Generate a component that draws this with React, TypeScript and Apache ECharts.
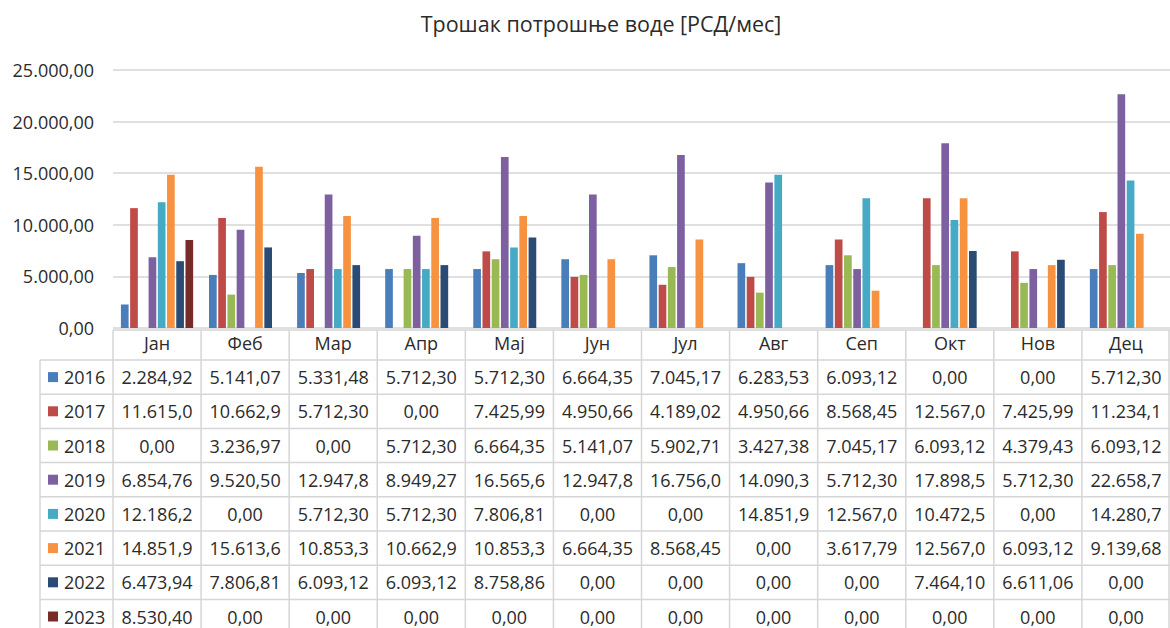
import React, { useEffect, useRef } from "react";
import * as echarts from "echarts";

const months = ["Јан", "Феб", "Мар", "Апр", "Мај", "Јун", "Јул", "Авг", "Сеп", "Окт", "Нов", "Дец"];
const years = ["2016", "2017", "2018", "2019", "2020", "2021", "2022", "2023"];
const yearColors = ["#4A7EBB", "#BE4B48", "#98B954", "#7D60A0", "#46AAC5", "#F69240", "#2A4B73", "#772C2A"];

const v2016 = [2284.92, 5141.07, 5331.48, 5712.3, 5712.3, 6664.35, 7045.17, 6283.53, 6093.12, 0, 0, 5712.3];
const v2017 = [11615.01, 10662.96, 5712.3, 0, 7425.99, 4950.66, 4189.02, 4950.66, 8568.45, 12567.06, 7425.99, 11234.19];
const v2018 = [0, 3236.97, 0, 5712.3, 6664.35, 5141.07, 5902.71, 3427.38, 7045.17, 6093.12, 4379.43, 6093.12];
const v2019 = [6854.76, 9520.5, 12947.88, 8949.27, 16565.67, 12947.88, 16756.08, 14090.34, 5712.3, 17898.54, 5712.3, 22658.79];
const v2020 = [12186.24, 0, 5712.3, 5712.3, 7806.81, 0, 0, 14851.98, 12567.06, 10472.55, 0, 14280.75];
const v2021 = [14851.98, 15613.62, 10853.37, 10662.96, 10853.37, 6664.35, 8568.45, 0, 3617.79, 12567.06, 6093.12, 9139.68];
const v2022 = [6473.94, 7806.81, 6093.12, 6093.12, 8758.86, 0, 0, 0, 0, 7464.1, 6611.06, 0];
const v2023 = [8530.4, 0, 0, 0, 0, 0, 0, 0, 0, 0, 0, 0];
const seriesValues = [v2016, v2017, v2018, v2019, v2020, v2021, v2022, v2023];

const yMax = 25000;
const yStep = 5000;

const FONT = "'Open Sans', 'Noto Sans', sans-serif";
const TEXT = "#2b2b2b";
const LINE = "#d6d6d6";

function fmt(v: number, decimals = 2): string {
  const neg = v < 0;
  const s = Math.abs(v).toFixed(decimals);
  const [ip, dp] = s.split(".");
  const withSep = ip.replace(/\B(?=(\d{3})+(?!\d))/g, ".");
  return (neg ? "-" : "") + withSep + (dp ? "," + dp : "");
}
// Excel data table cells are narrow: text is clipped to 8 characters
function cellText(v: number): string {
  return fmt(v).slice(0, 8);
}

const W = 1170;
const H = 628;
const gridLeft = 113;
const gridTop = 70;
const gridBottomY = 328;
const tableTop = 330;
const headerBottom = 360;
const rowH = 34.2;
const legendLeft = 40;

export default function App() {
  const ref = useRef<HTMLDivElement>(null);
  useEffect(() => {
    if (!ref.current) return;
    const chart = echarts.init(ref.current, undefined, { renderer: "svg" });
    const colW = (W - gridLeft) / months.length;
    const graphics: any[] = [];
    graphics.push({ type: "line", shape: { x1: gridLeft, y1: tableTop, x2: W, y2: tableTop }, style: { stroke: LINE, lineWidth: 1.5 } });
    for (let i = 0; i <= years.length; i++) {
      const y = headerBottom + i * rowH;
      graphics.push({ type: "line", shape: { x1: legendLeft, y1: y, x2: W, y2: y }, style: { stroke: LINE, lineWidth: 1.5 } });
    }
    graphics.push({ type: "line", shape: { x1: legendLeft, y1: headerBottom, x2: legendLeft, y2: H }, style: { stroke: LINE, lineWidth: 1.5 } });
    for (let j = 0; j <= months.length; j++) {
      const x = Math.min(gridLeft + j * colW, W - 1);
      graphics.push({ type: "line", shape: { x1: x, y1: tableTop, x2: x, y2: H }, style: { stroke: LINE, lineWidth: 1.5 } });
    }
    years.forEach((yr, i) => {
      const cy = headerBottom + (i + 0.5) * rowH;
      graphics.push({ type: "rect", shape: { x: 48, y: cy - 5, width: 10, height: 10 }, style: { fill: yearColors[i] } });
      graphics.push({
        type: "text", x: 64, y: cy,
        style: { text: yr, fill: TEXT, font: `18px ${FONT}`, textAlign: "left", textVerticalAlign: "middle" },
      });
      seriesValues[i].forEach((v, j) => {
        graphics.push({
          type: "text", x: gridLeft + (j + 0.5) * colW, y: cy,
          style: { text: cellText(v), fill: TEXT, font: `18px ${FONT}`, textAlign: "center", textVerticalAlign: "middle" },
        });
      });
    });

    chart.setOption({
      animation: false,
      title: {
        text: "Трошак потрошње воде [РСД/мес]",
        left: 596, top: 7, textAlign: "center",
        textStyle: { fontFamily: FONT, fontSize: 21.5, fontWeight: "normal", color: TEXT },
      },
      grid: { left: gridLeft, right: 0, top: gridTop, bottom: H - gridBottomY, containLabel: false },
      xAxis: {
        type: "category", data: months,
        axisLine: { show: false }, axisTick: { show: false },
        axisLabel: { margin: 6, fontFamily: FONT, fontSize: 18, color: TEXT },
      },
      yAxis: {
        type: "value", min: 0, max: yMax, interval: yStep,
        axisLine: { show: false }, axisTick: { show: false },
        splitLine: { lineStyle: { color: LINE, width: 1.5 } },
        axisLabel: { margin: 19, fontFamily: FONT, fontSize: 18, color: TEXT, formatter: (v: number) => fmt(v) },
      },
      series: years.map((yr, i) => ({
        name: yr, type: "bar", data: seriesValues[i],
        barCategoryGap: "18%", barGap: "20%",
        itemStyle: { color: yearColors[i] },
      })),
      graphic: graphics,
    });
    return () => chart.dispose();
  }, []);
  return <div ref={ref} style={{ position: "fixed", left: 0, top: 0, width: W, height: H, background: "#fff" }} />;
}
